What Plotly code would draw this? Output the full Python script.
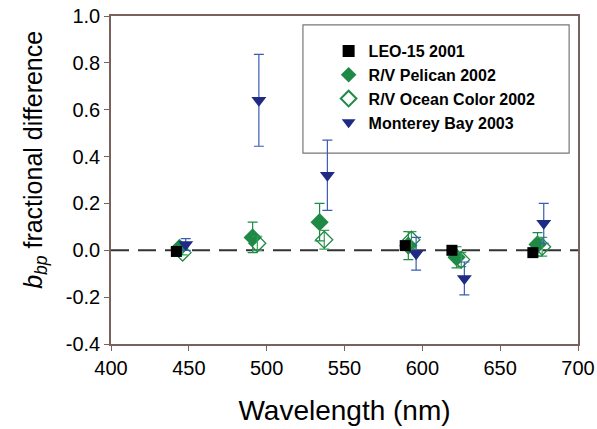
import plotly.graph_objects as go

# Data
wl_leo = [442, 589, 619, 671]
val_leo = [-0.005, 0.02, 0.0, -0.01]

wl_pel = [444, 491, 534, 591, 622, 674]
val_pel = [0.01, 0.055, 0.12, 0.02, -0.03, 0.025]
err_pel = [0.01, 0.065, 0.08, 0.06, 0.045, 0.05]

wl_oc = [446, 494, 537, 593, 625, 677]
val_oc = [-0.01, 0.03, 0.045, 0.045, -0.04, 0.015]
err_oc = [0.01, 0.03, 0.04, 0.035, 0.03, 0.04]

wl_mb = [448, 495, 539, 596, 627, 678]
val_mb = [0.025, 0.64, 0.32, -0.015, -0.12, 0.115]
err_mb = [0.025, 0.196, 0.15, 0.07, 0.07, 0.085]

names = ["LEO-15 2001", "R/V Pelican 2002", "R/V Ocean Color 2002", "Monterey Bay 2003"]
y_ticks = [1.0, 0.8, 0.6, 0.4, 0.2, 0.0, -0.2, -0.4]
y_labels = ["1.0", "0.8", "0.6", "0.4", "0.2", "0.0", "-0.2", "-0.4"]
x_ticks = [400, 450, 500, 550, 600, 650, 700]

FONT = "Arial, 'Liberation Sans', sans-serif"
AX = "#7a625c"
GREEN = "#1f8a45"
NAVY = "#1f2a84"
BLUE_BAR = "#3b5cb5"

fig = go.Figure()

fig.add_trace(go.Scatter(
    x=wl_pel, y=val_pel, mode="markers", name=names[1], legendrank=2,
    marker=dict(symbol="diamond", size=14, color=GREEN),
    error_y=dict(type="data", array=err_pel, color=GREEN, thickness=1.2, width=5),
))
fig.add_trace(go.Scatter(
    x=wl_oc, y=val_oc, mode="markers", name=names[2], legendrank=3,
    marker=dict(symbol="diamond-open", size=13, color=GREEN, line=dict(width=1.3)),
    error_y=dict(type="data", array=err_oc, color="#35a05a", thickness=1.2, width=5),
))
fig.add_trace(go.Scatter(
    x=wl_mb, y=val_mb, mode="markers", name=names[3], legendrank=4,
    marker=dict(symbol="triangle-down", size=13, color=NAVY),
    error_y=dict(type="data", array=err_mb, color=BLUE_BAR, thickness=1.2, width=5),
))
fig.add_trace(go.Scatter(
    x=wl_leo, y=val_leo, mode="markers", name=names[0], legendrank=1,
    marker=dict(symbol="square", size=11, color="black"),
))

# dashed zero reference line
fig.add_shape(type="line", xref="paper", x0=0, x1=1, yref="y", y0=0, y1=0,
              line=dict(color="#333333", width=2, dash="18px,9px"), layer="below")
# legend box
fig.add_shape(type="rect", xref="paper", yref="paper", x0=0.411, x1=0.981, y0=0.582, y1=0.973,
              line=dict(color="#777777", width=1.2), layer="below")

# y-axis title as rotated annotation
fig.add_annotation(
    text="<i>b</i><sub><i>bp</i></sub> fractional difference",
    xref="paper", yref="paper", x=-0.163, y=0.561, xanchor="center", yanchor="middle",
    textangle=-90, showarrow=False, font=dict(size=25, family=FONT, color="black"),
)

fig.update_layout(
    width=597, height=429,
    margin=dict(l=111, r=19, t=16, b=85, autoexpand=False),
    paper_bgcolor="white", plot_bgcolor="white",
    font=dict(family=FONT, color="black"),
    legend=dict(
        x=0.466, y=0.945, xanchor="left", yanchor="top",
        traceorder="normal", bgcolor="rgba(0,0,0,0)",
        font=dict(family=FONT, size=16, color="black", weight="bold"),
        itemsizing="constant", tracegroupgap=0,
    ),
    showlegend=True,
)

fig.update_xaxes(
    range=[400, 700], tickvals=x_ticks, ticks="outside", ticklen=5, tickcolor=AX,
    showline=True, linecolor=AX, linewidth=1.5, mirror=True, showgrid=False, zeroline=False,
    tickfont=dict(size=20, family=FONT), ticklabeloverflow="allow", automargin=False,
    title=dict(text="Wavelength (nm)", font=dict(size=28, family=FONT), standoff=23),
)
fig.update_yaxes(
    range=[-0.4, 1.0], tickvals=y_ticks, ticktext=y_labels, ticks="outside", ticklen=5, tickcolor=AX,
    showline=True, linecolor=AX, linewidth=1.5, mirror=True, showgrid=False, zeroline=False,
    tickfont=dict(size=20, family=FONT), ticklabeloverflow="allow", automargin=False,
)

fig.write_html("out.html", config={"displayModeBar": False},
               post_script="document.body.style.margin='0';")
